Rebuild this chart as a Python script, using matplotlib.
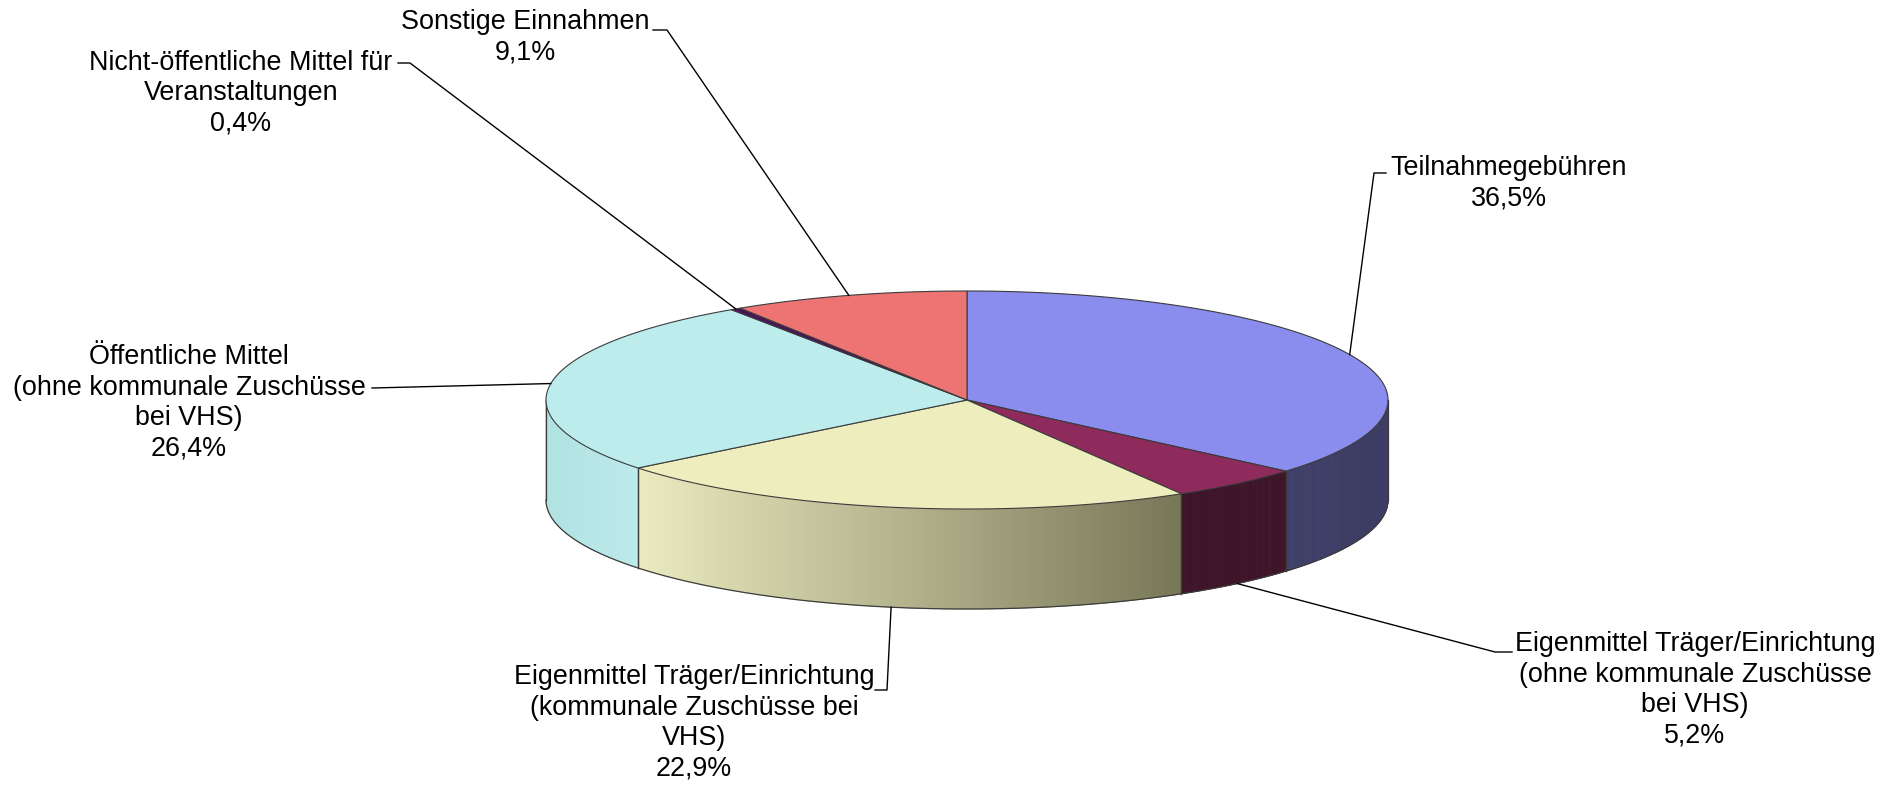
import numpy as np
import matplotlib
matplotlib.use("Agg")
import matplotlib.pyplot as plt
from matplotlib.patches import Polygon
from matplotlib.collections import PolyCollection
import matplotlib.colors as mcolors

# ---------------- data (clockwise from 12 o'clock) ----------------
labels = [
    "Teilnahmegebühren",
    "Eigenmittel Träger/Einrichtung\n(ohne kommunale Zuschüsse\nbei VHS)",
    "Eigenmittel Träger/Einrichtung\n(kommunale Zuschüsse bei\nVHS)",
    "Öffentliche Mittel\n(ohne kommunale Zuschüsse\nbei VHS)",
    "Nicht-öffentliche Mittel für\nVeranstaltungen",
    "Sonstige Einnahmen",
]
values = [36.5, 5.2, 22.9, 26.4, 0.4, 9.1]
pct_labels = ["36,5%", "5,2%", "22,9%", "26,4%", "0,4%", "9,1%"]

top_colors = ["#8a8cee", "#8e2a5c", "#ededbe", "#bcecec", "#4a1458", "#ee7474"]
side_light = ["#3e3f68", "#3e1428", "#ebebc0", "#b0e2e2", "#2a0a30", "#7a3a3a"]
side_dark = ["#3c3c64", "#3e1428", "#777757", "#bdeaea", "#2a0a30", "#7a3a3a"]

# label layout (text centre) and leader elbows (text end, bend)
label_pos = [(1509, 183), (1695, 690), (694, 723), (189, 403), (241, 93), (525, 37)]
elbows = [
    [(1386, 173), (1374, 173)],
    [(1512, 652), (1495, 652)],
    [(875, 690), (887, 690)],
    [(372, 388)],
    [(398, 63), (410, 63)],
    [(653, 30), (667, 30)],
]

# ---------------- geometry ----------------
W, H = 1891, 787
cx, cy, rx, ry, depth = 967, 400, 421, 109, 100
edge_col = "#3c3c3c"

fig = plt.figure(figsize=(W / 100, H / 100), dpi=100)
ax = fig.add_axes([0, 0, 1, 1])
ax.set_xlim(0, W)
ax.set_ylim(H, 0)
ax.axis("off")

vals = np.array(values, dtype=float)
cum = np.concatenate([[0], np.cumsum(vals)]) / vals.sum() * 360.0
starts = 90 - cum[:-1]
ends = 90 - cum[1:]


def pt(t, dz=0.0):
    r = np.radians(t)
    return cx + rx * np.cos(r), cy - ry * np.sin(r) + dz


# ---- side walls (visible lower half: -180..0) ----
for i in range(len(vals)):
    a, b = max(ends[i], -180.0), min(starts[i], 0.0)
    if b <= a:
        continue
    n = max(int((b - a) * 3), 2)
    ts = np.linspace(a, b, n + 1)
    xs = [pt(t)[0] for t in ts]
    xmin, xmax = min(xs), max(xs)
    c1 = np.array(mcolors.to_rgb(side_light[i]))
    c2 = np.array(mcolors.to_rgb(side_dark[i]))
    polys, cols = [], []
    for k in range(n):
        t0, t1 = ts[k], ts[k + 1]
        p0, p1 = pt(t0), pt(t1)
        q0, q1 = pt(t0, depth), pt(t1, depth)
        polys.append([p0, p1, q1, q0])
        xm = 0.5 * (p0[0] + p1[0])
        f = (xm - xmin) / (xmax - xmin) if xmax > xmin else 0
        cols.append(tuple(c1 + (c2 - c1) * f))
    pc = PolyCollection(polys, facecolors=cols, edgecolors=cols, linewidths=0.6, zorder=1)
    ax.add_collection(pc)
    for t in (a, b):
        if -180 < t < 0:
            x0, y0 = pt(t)
            ax.plot([x0, x0], [y0, y0 + depth], color=edge_col, lw=0.9, zorder=3)

# bottom outline and silhouette verticals
tb = np.linspace(-180, 0, 300)
bx = [pt(t, depth)[0] for t in tb]
by = [pt(t, depth)[1] for t in tb]
ax.plot(bx, by, color=edge_col, lw=0.9, zorder=3)
for t in (-180, 0):
    x0, y0 = pt(t)
    ax.plot([x0, x0], [y0, y0 + depth], color=edge_col, lw=0.9, zorder=3)

# ---- top wedges ----
for i in range(len(vals)):
    ts = np.linspace(starts[i], ends[i], max(int(abs(starts[i] - ends[i]) * 2), 2))
    verts = [(cx, cy)] + [pt(t) for t in ts]
    ax.add_patch(Polygon(verts, closed=True, facecolor=top_colors[i],
                         edgecolor=edge_col, lw=0.8, zorder=4))

# ---- labels and leader lines ----
for i in range(len(vals)):
    mid = 0.5 * (starts[i] + ends[i])
    s = np.sin(np.radians(mid))
    anchor = pt(mid, depth if s < 0 else 0.0)
    path = elbows[i] + [anchor]
    ax.plot([p[0] for p in path], [p[1] for p in path], color="black", lw=1.0, zorder=5)
    ax.text(label_pos[i][0], label_pos[i][1], labels[i] + "\n" + pct_labels[i],
            ha="center", va="center", multialignment="center",
            fontsize=19.4, family="Liberation Sans", linespacing=1.22, color="black", zorder=6)

fig.savefig("out.png", dpi=100, facecolor="white")
